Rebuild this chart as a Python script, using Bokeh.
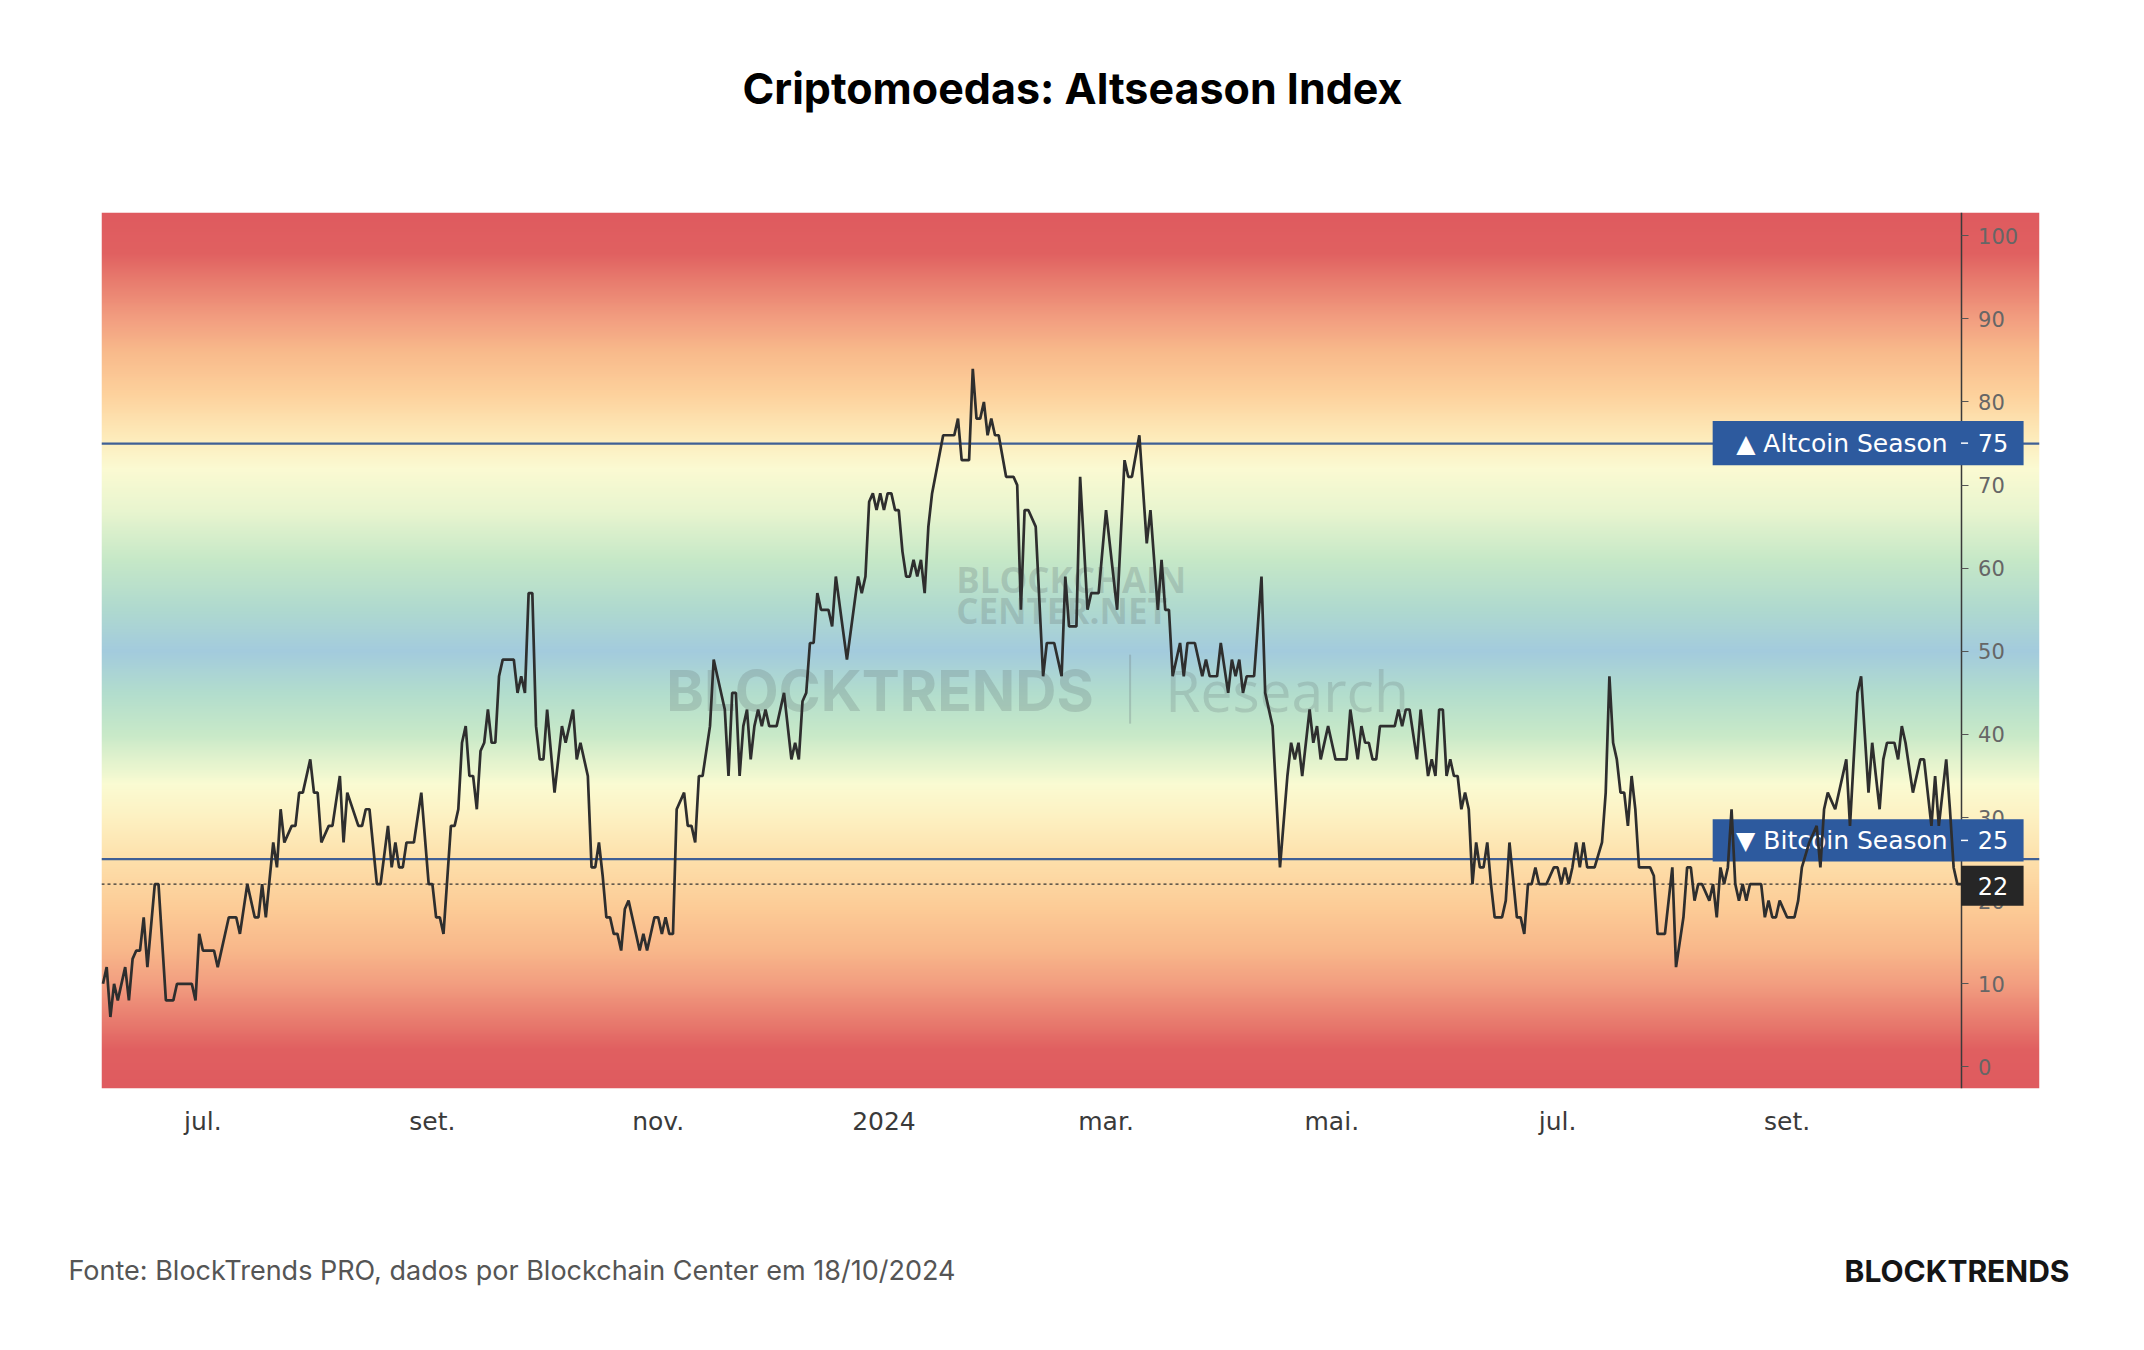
import numpy as np
import pandas as pd
from bokeh.plotting import figure
from bokeh.layouts import column
from bokeh.models import Range1d, LinearAxis, FixedTicker
from bokeh.core.properties import value
from bokeh.embed import file_html
from bokeh.resources import INLINE

# ---------------- data ----------------
BASE_DATE = pd.Timestamp("2023-07-01")   # day 0

days = [-27, -26, -25, -24, -23, -21, -20, -19, -18, -17, -16, -15, -13, -12, -10, -8, -7, -3, -2, -1,
        0, 3, 4, 7, 9, 10, 12, 14, 15, 16, 17, 19, 20, 21, 22, 24, 25, 26, 27, 29,
        30, 31, 32, 34, 35, 37, 38, 39, 42, 43, 44, 45, 47, 48, 50, 51, 52, 53, 54, 55,
        56, 57, 59, 61, 62, 63, 64, 65, 67, 68, 69, 70, 71, 72, 73, 74, 75, 76, 77, 78,
        79, 80, 81, 84, 85, 86, 87, 88, 89, 90, 91, 92, 93, 95, 96, 97, 98, 100, 101, 102,
        104, 105, 106, 107, 108, 109, 110, 111, 112, 113, 114, 115, 116, 118, 119, 120, 122, 123, 124, 125,
        126, 127, 128, 130, 131, 132, 133, 134, 135, 137, 138, 139,
        141, 142, 143, 144, 145, 146, 147, 148, 149, 150, 151, 152, 153, 155, 157, 159, 160, 161, 162, 163,
        164, 165, 166, 167, 169, 170, 171, 174, 177, 178, 179, 180, 181, 182, 183, 184, 185, 186, 187, 188,
        189, 190, 191, 192, 193, 194, 195, 196, 197, 200, 203, 204, 205, 207, 208, 209, 210, 211, 212, 213,
        214, 215, 217, 219, 220, 221, 222, 223,
        225, 226, 227, 228, 230, 232, 233, 234, 236, 237, 239, 240, 242, 244, 247, 249, 250, 251, 253, 255,
        256, 258, 259, 260, 261, 262, 264, 265, 266, 268, 270, 271, 272, 274, 275, 277, 278, 279, 280, 281,
        282, 284, 286, 287, 289, 291, 293, 294, 295, 296, 297, 299, 300, 301, 302, 304, 305, 306, 307,
        309, 310, 312, 313, 314, 315, 316, 317, 318, 322, 323, 324, 325, 326, 328, 329, 331, 332, 333, 334,
        335, 336, 337, 338, 339, 340, 341, 342, 343, 344, 345, 346, 347, 348, 349, 351, 352, 353, 355, 356,
        357, 358, 359, 360, 361, 363, 365, 366, 367, 368, 369, 370, 371, 372, 373, 374, 376, 378, 379, 380,
        381, 382, 383, 384, 385, 386, 387, 388,
        391, 392, 393, 395, 397, 398, 400, 401, 402, 403, 404, 405, 407, 408, 409, 410, 411, 412, 413, 414,
        415, 416, 417, 418, 421, 422, 423, 424, 425, 426, 428, 430, 431, 432, 434, 436, 437, 438, 439, 441,
        444, 445, 447, 448, 450, 451, 452, 453, 454, 455, 457, 458, 459, 460, 462, 464, 465, 467, 468, 469,
        470, 471, 472, 473, 474, 475]

altseason = [10, 12, 6, 10, 8, 12, 8, 13, 14, 14, 18, 12, 22, 22, 8, 8, 10, 10, 8, 16,
             14, 14, 12, 18, 18, 16, 22, 18, 18, 22, 18, 27, 24, 31, 27, 29, 29, 33, 33, 37,
             33, 33, 27, 29, 29, 35, 27, 33, 29, 29, 31, 31, 22, 22, 29, 24, 27, 24, 24, 27,
             27, 27, 33, 22, 22, 18, 18, 16, 29, 29, 31, 39, 41, 35, 35, 31, 38, 39, 43, 39,
             39, 47, 49, 49, 45, 47, 45, 57, 57, 41, 37, 37, 43, 33, 37, 41, 39, 43, 37, 39,
             35, 24, 24, 27, 23, 18, 18, 16, 16, 14, 19, 20, 18, 14, 16, 14, 18, 18, 16, 18,
             16, 16, 31, 33, 29, 29, 27, 35, 35, 41, 49, 47,
             43, 35, 45, 45, 35, 41, 43, 37, 41, 43, 41, 43, 41, 41, 45, 37, 39, 37, 44, 45,
             51, 51, 57, 55, 55, 53, 59, 49, 59, 57, 59, 68, 69, 67, 69, 67, 69, 69, 67, 67,
             62, 59, 59, 61, 59, 61, 57, 65, 69, 76, 76, 78, 73, 73, 84, 78, 78, 80, 76, 78,
             76, 76, 71, 71, 70, 55, 67, 67,
             65, 56, 47, 51, 51, 47, 59, 53, 53, 71, 55, 57, 57, 67, 55, 73, 71, 71, 76, 63,
             67, 55, 61, 55, 55, 47, 51, 47, 51, 51, 47, 49, 47, 47, 51, 45, 49, 47, 49, 45,
             47, 47, 59, 45, 41, 24, 35, 39, 37, 39, 35, 43, 39, 41, 37, 41, 39, 37, 37,
             37, 43, 37, 41, 39, 39, 37, 37, 41, 41, 43, 41, 43, 43, 37, 43, 35, 37, 35, 43,
             43, 35, 37, 35, 35, 31, 33, 31, 22, 27, 24, 24, 27, 22, 18, 18, 20, 27, 18, 18,
             16, 22, 22, 24, 22, 22, 24, 24, 22, 24, 22, 24, 27, 24, 27, 24, 24, 27, 33, 47,
             39, 37, 33, 33, 29, 35, 31, 24,
             24, 23, 16, 16, 24, 12, 18, 24, 24, 20, 22, 22, 20, 22, 18, 24, 22, 24, 31, 22,
             20, 22, 20, 22, 22, 18, 20, 18, 18, 20, 18, 18, 20, 24, 27, 29, 24, 31, 33, 31,
             37, 29, 45, 47, 33, 39, 35, 31, 37, 39, 39, 37, 41, 39, 33, 37, 37, 29, 35, 29,
             33, 37, 31, 24, 22, 22]

month_starts = ["2023-07-01", "2023-09-01", "2023-11-01", "2024-01-01",
                "2024-03-01", "2024-05-01", "2024-07-01", "2024-09-01"]
month_labels = ["jul.", "set.", "nov.", "2024", "mar.", "mai.", "jul.", "set."]
y_ticks = [0, 10, 20, 30, 40, 50, 60, 70, 80, 90, 100]

ALT_LEVEL = 75
BTC_LEVEL = 25
last_day = days[-1]
last_value = altseason[-1]

TITLE = "Criptomoedas: Altseason Index"
SOURCE = "Fonte: BlockTrends PRO, dados por Blockchain Center em 18/10/2024"
BRAND = "BLOCKTRENDS"

# ---------------- style / layout constants ----------------
W = 2144
HEAD_H, MAIN_H, FOOT_H = 212, 968, 170
X0, X1 = -27.4, 496.2
Y0, Y1 = -2.6, 102.8
BOX_L, BOX_R = 407.9, 491.9
LINE_BLUE = "#3f5f95"
BOX_BLUE = "#2d5a9e"

GRADIENT = [(-3, "#df5a5f"), (2, "#e05f60"), (6, "#e97f70"), (10, "#f29e80"),
            (14, "#f8b78a"), (19, "#fccb96"), (25, "#fde0ab"), (30, "#fdf1c2"),
            (34, "#fafbd2"), (40, "#c8e9c8"), (45, "#b2ddcd"), (50, "#a3cbdd"),
            (55, "#afd9cf"), (61, "#c6e8c7"), (67, "#e9f5cf"), (72, "#fbfad2"),
            (76, "#fdeab9"), (81, "#fdd19c"), (86, "#f8ba8b"), (90, "#f29e80"),
            (94, "#e98070"), (98, "#e06060"), (103, "#df5a5f")]


def blank(height):
    f = figure(width=W, height=height, x_range=Range1d(0, W), y_range=Range1d(0, height),
               x_axis_location=None, y_axis_location=None, output_backend="svg",
               toolbar_location=None, min_border=0, frame_align=False)
    f.outline_line_color = None
    f.grid.visible = False
    f.border_fill_color = "white"
    f.background_fill_color = "white"
    return f


# header with title
head = blank(HEAD_H)
head.text(x=[W / 2], y=[HEAD_H - 87.5], text=[TITLE], text_font=value("Inter"),
          text_font_style="bold", text_font_size="43px", text_color="#000000",
          text_align="center", text_baseline="middle")

# main chart
month_days = [int((pd.Timestamp(s) - BASE_DATE).days) for s in month_starts]

p = figure(width=W, height=MAIN_H,
           x_range=Range1d(X0, X1), y_range=Range1d(Y0, Y1),
           y_axis_location=None, output_backend="svg", toolbar_location=None,
           min_border_left=101, min_border_right=105, min_border_top=0, min_border_bottom=92,
           frame_align=False)
p.outline_line_color = None
p.background_fill_color = "white"
p.border_fill_color = "white"
p.xgrid.visible = False
p.ygrid.visible = False

# gradient background
stop_v = np.array([s[0] for s in GRADIENT], dtype=float)
stop_rgb = np.array([[int(c[i:i + 2], 16) for i in (1, 3, 5)] for _, c in GRADIENT], dtype=float)
N = 900
yy = Y0 + (np.arange(N) + 0.5) * (Y1 - Y0) / N
img = np.zeros((N, 1, 4), dtype=np.uint8)
for k in range(3):
    img[:, 0, k] = np.round(np.interp(yy, stop_v, stop_rgb[:, k])).astype(np.uint8)
img[:, 0, 3] = 255
p.image_rgba(image=[img.view(dtype=np.uint32).reshape((N, 1))], x=X0, y=Y0,
             dw=X1 - X0, dh=Y1 - Y0, level="image")

# watermarks
WM = "#6c7c7d"
p.text(x=[203.5, 203.5], y=[58.6, 54.9], text=["BLOCKCHAIN", "CENTER.NET"],
       text_font=value("Open Sans"), text_font_style="bold", text_font_size="35px",
       text_color=WM, text_alpha=0.28, text_baseline="middle", text_align="left")
p.text(x=[125.2], y=[45.3], text=["BLOCKTRENDS"], text_font=value("Inter"),
       text_font_style="bold", text_font_size="57px", text_color=WM, text_alpha=0.28,
       text_baseline="middle", text_align="left")
p.segment(x0=[250.5], y0=[41.3], x1=[250.5], y1=[49.6], line_color=WM, line_alpha=0.3, line_width=2)
p.text(x=[260.0], y=[45.3], text=["Research"], text_font=value("Open Sans"),
       text_font_size="57px", text_color=WM, text_alpha=0.25,
       text_baseline="middle", text_align="left")

# reference lines
p.segment(x0=[X0, X0], y0=[ALT_LEVEL, BTC_LEVEL], x1=[X1, X1], y1=[ALT_LEVEL, BTC_LEVEL],
          line_color=LINE_BLUE, line_width=2.2)
p.segment(x0=[X0], y0=[last_value], x1=[last_day], y1=[last_value],
          line_color="#333333", line_width=1.3, line_dash="3 3")

# right price axis at last bar
yax = LinearAxis(fixed_location=last_day, ticker=FixedTicker(ticks=y_ticks))
yax.axis_line_color = "#3a3a3a"
yax.axis_line_width = 1.5
yax.major_tick_in = 0
yax.major_tick_out = 7
yax.major_tick_line_color = "#555555"
yax.minor_tick_line_color = None
yax.major_label_text_font = "DejaVu Sans"
yax.major_label_text_font_size = "21px"
yax.major_label_text_color = "#666666"
yax.major_label_standoff = 10
p.add_layout(yax, "right")

# bottom time axis
xax = p.xaxis[0]
xax.ticker = FixedTicker(ticks=month_days)
xax.major_label_overrides = {d: lab for d, lab in zip(month_days, month_labels)}
xax.axis_line_color = None
xax.major_tick_line_color = None
xax.minor_tick_line_color = None
xax.major_tick_out = 0
xax.major_tick_in = 0
xax.major_label_text_font = "DejaVu Sans"
xax.major_label_text_font_size = "25px"
xax.major_label_text_color = "#3a3a3a"
xax.major_label_standoff = 18

# label boxes (above axis, below price line)
BTC_BOX = (24.7, 29.8)
ALT_BOX = (72.4, 77.7)
LAST_BOX = (19.4, 24.2)
p.quad(left=[BOX_L, BOX_L], right=[BOX_R, BOX_R], bottom=[ALT_BOX[0], BTC_BOX[0]],
       top=[ALT_BOX[1], BTC_BOX[1]], fill_color=BOX_BLUE, line_color=None, level="overlay")
p.quad(left=[last_day], right=[BOX_R], bottom=[LAST_BOX[0]], top=[LAST_BOX[1]],
       fill_color="#262626", line_color=None, level="overlay")
ya = (ALT_BOX[0] + ALT_BOX[1]) / 2
yb = (BTC_BOX[0] + BTC_BOX[1]) / 2
yl = (LAST_BOX[0] + LAST_BOX[1]) / 2
p.text(x=[471.4, 471.4], y=[ya, yb], text=["\u25B2 Altcoin Season", "\u25BC Bitcoin Season"],
       text_font=value("DejaVu Sans"), text_font_size="25px", text_color="white",
       text_align="right", text_baseline="middle", level="overlay")
p.text(x=[479.5, 479.5, 479.5], y=[ya, yb, yl],
       text=[str(ALT_LEVEL), str(BTC_LEVEL), str(last_value)],
       text_font=value("DejaVu Sans"), text_font_size="24px", text_color="white",
       text_align="left", text_baseline="middle", level="overlay")
p.segment(x0=[last_day, last_day], y0=[ya, yb], x1=[last_day + 1.9, last_day + 1.9], y1=[ya, yb],
          line_color="white", line_width=1.5, level="overlay")

# price line
p.line(x=days, y=altseason, line_color="#2e2e2e", line_width=2.7, level="overlay")

# footer
foot = blank(FOOT_H)
foot.text(x=[68], y=[FOOT_H - 90], text=[SOURCE], text_font=value("Inter"),
          text_font_size="27px", text_color="#555555", text_align="left", text_baseline="middle")
foot.text(x=[2069], y=[FOOT_H - 90], text=[BRAND], text_font=value("Inter"),
          text_font_style="bold", text_font_size="30px", text_color="#151515",
          text_align="right", text_baseline="middle")

layout = column(head, p, foot, spacing=0)
open("out.html", "w").write(file_html(layout, INLINE))
